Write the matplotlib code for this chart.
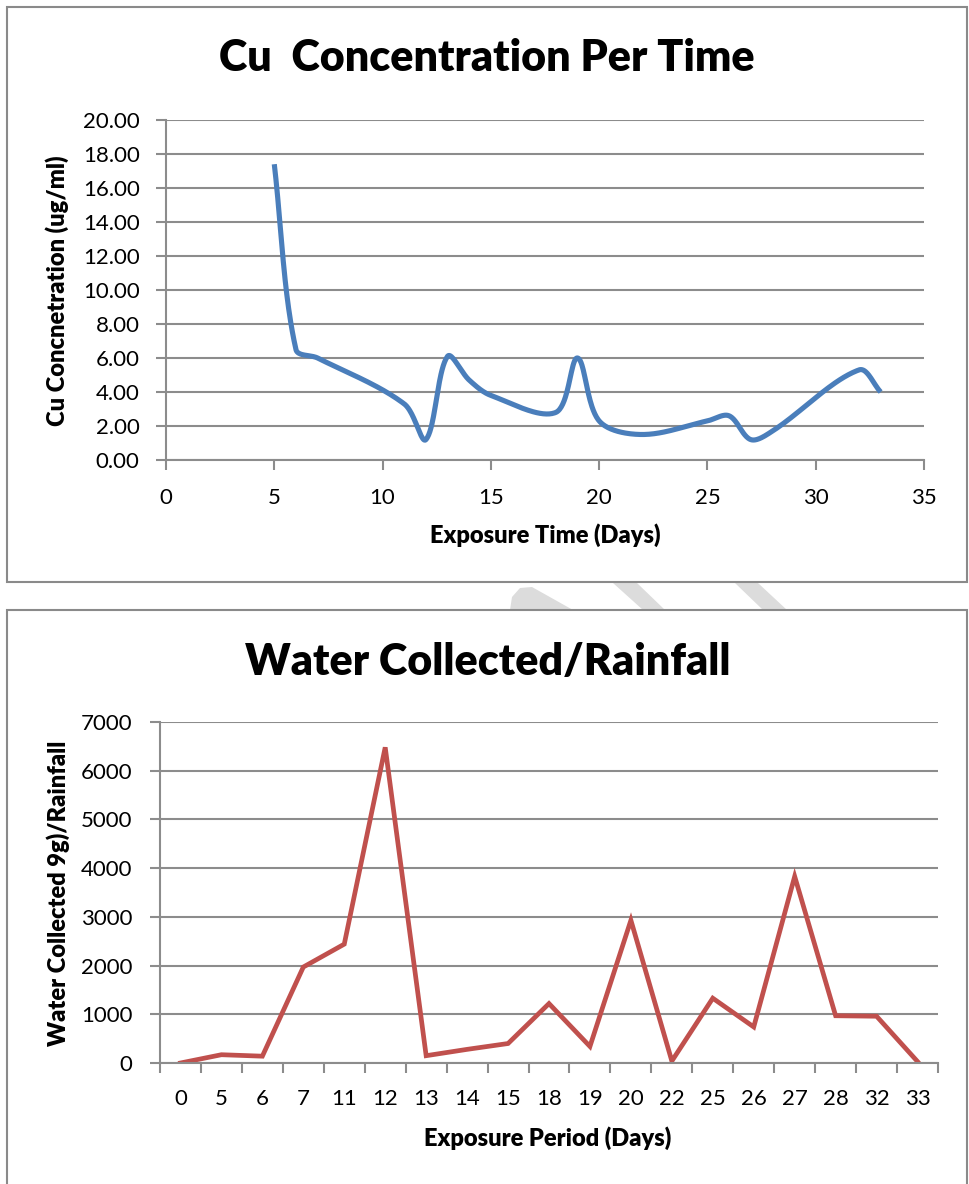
import numpy as np
import matplotlib.pyplot as plt
from matplotlib.patches import Rectangle, Polygon
from matplotlib.ticker import FixedLocator, FormatStrFormatter

# Top chart: Cu concentration per exposure day
cu_days = [5, 6, 7, 11, 12, 13, 14, 15, 18, 19, 20, 22, 25, 26, 27, 28, 32, 33]
cu_conc = [17.4, 6.5, 6.0, 3.3, 1.2, 6.1, 4.7, 3.8, 2.8, 6.0, 2.3, 1.5, 2.3, 2.6, 1.2, 1.7, 5.3, 4.0]

# Bottom chart: water collected / rainfall per exposure period (categorical)
period_labels = ['0', '5', '6', '7', '11', '12', '13', '14', '15', '18',
                 '19', '20', '22', '25', '26', '27', '28', '32', '33']
water_rain = [0, 170, 140, 1970, 2440, 6480, 150, 280, 400, 1220,
              340, 2930, 40, 1330, 740, 3830, 970, 960, 30]

W, H = 969, 1184
GRID = '#8c8c8c'
FONT = 'Lato'


def fx(x):
    return x / W


def fy(y):
    return 1 - y / H


def smooth_curve(xs, ys, kx, ky, n=40):
    """Smoothed line through the points, arms scaled by segment length
    (worked out in screen units so steep drops do not overshoot)."""
    pts = np.column_stack([np.asarray(xs) * kx, np.asarray(ys) * ky]).astype(float)
    pad = np.vstack([pts[0], pts, pts[-1]])
    d = np.linalg.norm(np.diff(pad, axis=0), axis=1)
    t = np.linspace(0, 1, n)[:, None]
    segs = []
    for i in range(len(pts) - 1):
        p0, p1, p2, p3 = pad[i], pad[i + 1], pad[i + 2], pad[i + 3]
        d0, d1, d2 = d[i], d[i + 1], d[i + 2]
        c1 = p1 + (p2 - p0) * (d1 / max(d0 + d1, 1e-9)) / 3
        c2 = p2 - (p3 - p1) * (d1 / max(d1 + d2, 1e-9)) / 3
        segs.append((1 - t) ** 3 * p1 + 3 * (1 - t) ** 2 * t * c1
                    + 3 * (1 - t) * t ** 2 * c2 + t ** 3 * p2)
    out = np.vstack(segs)
    return out[:, 0] / kx, out[:, 1] / ky


def style_axes(ax):
    for s in ['top', 'right']:
        ax.spines[s].set_visible(False)
    for s in ['left', 'bottom']:
        ax.spines[s].set_color(GRID)
        ax.spines[s].set_linewidth(1.5)
    ax.grid(axis='y', color=GRID, linewidth=1.5)
    ax.set_axisbelow(True)


fig = plt.figure(figsize=(W / 100, H / 100), dpi=100)

# chart frames
fig.patches.append(Rectangle((fx(7), fy(582)), fx(960), 575 / H, transform=fig.transFigure,
                             fill=False, edgecolor='#8a8a8a', linewidth=1.5))
fig.patches.append(Rectangle((fx(7), fy(1200)), fx(960), 590 / H, transform=fig.transFigure,
                             fill=False, edgecolor='#8a8a8a', linewidth=1.5))

# faint watermark pieces visible between the frames
wm = [[(510, 610), (512, 597), (520, 588), (532, 587), (573, 610)],
      [(613, 583), (637, 583), (665, 610), (643, 610)],
      [(735, 583), (758, 583), (787, 610), (763, 610)]]
for poly in wm:
    fig.patches.append(Polygon([(fx(a), fy(b)) for a, b in poly], closed=True,
                               transform=fig.transFigure, facecolor='#dcdcdc',
                               edgecolor='none', zorder=0))

# ---------------- top chart ----------------
left1, right1, top1, bot1 = 166, 924, 120, 460
ax1 = fig.add_axes([fx(left1), fy(bot1), (right1 - left1) / W, (bot1 - top1) / H])
style_axes(ax1)
sx, sy = smooth_curve(cu_days, cu_conc, (right1 - left1) / 35, (bot1 - top1) / 20)
ax1.plot(sx, sy, color='#4a7ebb', linewidth=3.7, solid_capstyle='butt', clip_on=False)
ax1.set_xlim(0, 35)
ax1.set_ylim(0, 20)
ax1.set_xticks(np.arange(0, 36, 5))
ax1.set_yticks(np.arange(0, 21, 2))
ax1.yaxis.set_major_formatter(FormatStrFormatter('%.2f'))
ax1.tick_params(axis='x', length=7, width=1.5, color=GRID, pad=13, labelsize=16)
ax1.tick_params(axis='y', length=7, width=1.5, color=GRID, pad=12, labelsize=16)
for lab in ax1.get_xticklabels() + ax1.get_yticklabels():
    lab.set_fontfamily(FONT)

fig.text(fx(487), fy(58), 'Cu  Concentration Per Time', ha='center', va='center',
         fontsize=31, fontweight='heavy', family=FONT)
fig.text(fx(545), fy(535), 'Exposure Time (Days)', ha='center', va='center',
         fontsize=17, fontweight='heavy', family=FONT)
fig.text(fx(57), fy(291), 'Cu Concnetration (ug/ml)', ha='center', va='center',
         rotation=90, fontsize=17, fontweight='heavy', family=FONT)

# ---------------- bottom chart ----------------
ax2 = fig.add_axes([fx(160), fy(1063), (938 - 160) / W, (1063 - 722) / H])
style_axes(ax2)
pos = np.arange(len(period_labels))
ax2.plot(pos, water_rain, color='#c0504d', linewidth=3.4, solid_joinstyle='miter')
ax2.set_xlim(-0.5, len(period_labels) - 0.5)
ax2.set_ylim(0, 7000)
ax2.set_yticks(np.arange(0, 7001, 1000))
ax2.set_xticks(pos)
ax2.set_xticklabels(period_labels)
ax2.xaxis.set_minor_locator(FixedLocator(np.arange(-0.5, len(period_labels), 1)))
ax2.tick_params(axis='x', which='major', length=0, pad=19, labelsize=16)
ax2.tick_params(axis='x', which='minor', length=7, width=1.5, color=GRID)
ax2.tick_params(axis='y', length=7, width=1.5, color=GRID, pad=13, labelsize=16)
for lab in ax2.get_xticklabels() + ax2.get_yticklabels():
    lab.set_fontfamily(FONT)

fig.text(fx(488), fy(662), 'Water Collected/Rainfall', ha='center', va='center',
         fontsize=31, fontweight='heavy', family=FONT)
fig.text(fx(548), fy(1138), 'Exposure Period (Days)', ha='center', va='center',
         fontsize=17, fontweight='heavy', family=FONT)
fig.text(fx(58), fy(893), 'Water Collected 9g)/Rainfall', ha='center', va='center',
         rotation=90, fontsize=17, fontweight='heavy', family=FONT)

fig.savefig('out.png', dpi=100)
